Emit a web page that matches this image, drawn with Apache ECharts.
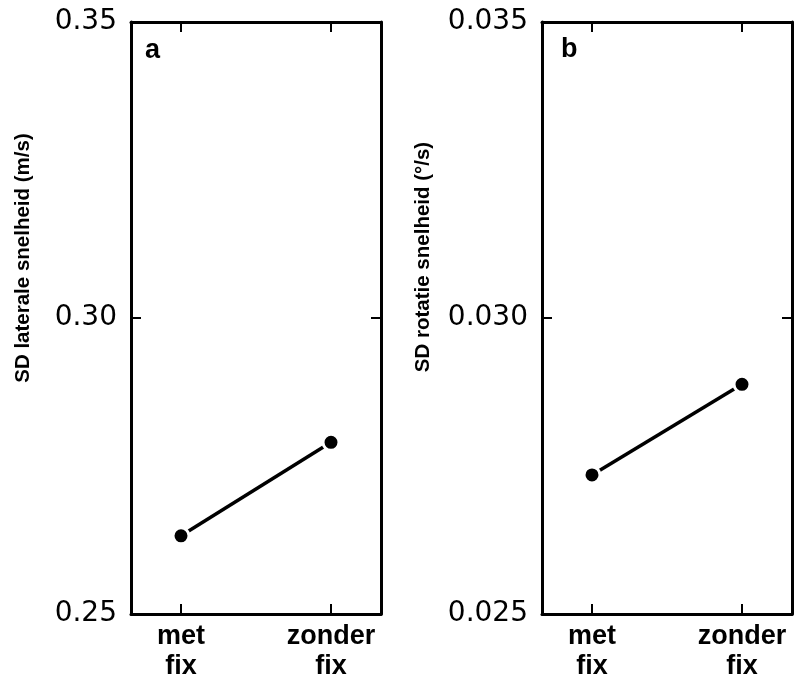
<!DOCTYPE html>
<html>
<head>
<meta charset="utf-8">
<script src="https://cdn.jsdelivr.net/npm/echarts@6/dist/echarts.min.js"></script>
<style>html,body{margin:0;padding:0;background:#fff}#c{width:797px;height:682px}</style>
</head>
<body>
<div id="c"></div>
<script>
const categories = ['met\nfix', 'zonder\nfix'];
const lateralValues = [0.2632, 0.2790];
const rotationValues = [0.02735, 0.02888];
const yTicksA = [0.25, 0.30, 0.35];
const yTicksB = [0.025, 0.030, 0.035];
const titleA = 'SD laterale snelheid (m/s)';
const titleB = 'SD rotatie snelheid (°/s)';
const panelLabels = ['a', 'b'];

const FONT = '"Liberation Sans", Arial, Helvetica, sans-serif';
const TICKFONT = '"DejaVu Sans", sans-serif';
const chart = echarts.init(document.getElementById('c'));

const grids = [
  {left: 131, top: 22, width: 250, height: 594},
  {left: 542, top: 22, width: 250, height: 594}
];
const catIdx = categories.map((_, i) => i);
const lineStyleAxis = {show: true, onZero: false, lineStyle: {color: '#000', width: 3}};

function xAxes(gi) {
  return [
    {
      type: 'value', gridIndex: gi, position: 'bottom', min: -1/3, max: 4/3,
      axisLine: lineStyleAxis, splitLine: {show: false},
      axisTick: {show: true, inside: true, length: 10, customValues: catIdx, lineStyle: {color: '#000', width: 2}},
      axisLabel: {show: true, customValues: catIdx, margin: 8, color: '#000', fontFamily: FONT,
        fontSize: 27, fontWeight: 'bold', lineHeight: 30,
        formatter: v => categories[Math.round(v)] || ''}
    },
    {
      type: 'value', gridIndex: gi, position: 'top', min: -1/3, max: 4/3,
      axisLine: lineStyleAxis, splitLine: {show: false},
      axisTick: {show: true, inside: true, length: 10, customValues: catIdx, lineStyle: {color: '#000', width: 2}},
      axisLabel: {show: false}
    }
  ];
}
function yAxes(gi, ticks, dec) {
  const iv = +(ticks[1] - ticks[0]).toFixed(6);
  return [
    {
      type: 'value', gridIndex: gi, position: 'left', min: ticks[0], max: ticks[ticks.length-1], interval: iv,
      axisLine: lineStyleAxis, splitLine: {show: false},
      axisTick: {show: true, inside: true, length: 10, lineStyle: {color: '#000', width: 2}},
      axisLabel: {show: true, margin: 14, color: '#000', fontFamily: TICKFONT, fontSize: 28,
        formatter: v => v.toFixed(dec)}
    },
    {
      type: 'value', gridIndex: gi, position: 'right', min: ticks[0], max: ticks[ticks.length-1], interval: iv,
      axisLine: lineStyleAxis, splitLine: {show: false},
      axisTick: {show: true, inside: true, length: 10, lineStyle: {color: '#000', width: 2}},
      axisLabel: {show: false}
    }
  ];
}

function series(xi, yi, vals) {
  return {
    type: 'line', xAxisIndex: xi, yAxisIndex: yi,
    data: vals.map((v, i) => [i, v]),
    symbol: 'circle', symbolSize: 16,
    itemStyle: {color: '#000', borderColor: '#fff', borderWidth: 3},
    lineStyle: {color: '#000', width: 3.5},
    animation: false
  };
}

function vtitle(x, y, text) {
  return {
    type: 'text', x: x, y: y, rotation: Math.PI / 2,
    style: {text: text, fill: '#000', fontFamily: FONT, fontSize: 20.5, fontWeight: 'bold',
      textAlign: 'center', textVerticalAlign: 'middle', align: 'center', verticalAlign: 'middle'}
  };
}
function plabel(x, y, text) {
  return {
    type: 'text', x: x, y: y,
    style: {text: text, fill: '#000', fontFamily: FONT, fontSize: 27, fontWeight: 'bold',
      textAlign: 'left', textVerticalAlign: 'bottom', align: 'left', verticalAlign: 'bottom'}
  };
}

chart.setOption({
  animation: false,
  backgroundColor: '#fff',
  grid: grids,
  xAxis: [...xAxes(0), ...xAxes(1)],
  yAxis: [...yAxes(0, yTicksA, 2), ...yAxes(1, yTicksB, 3)],
  series: [series(0, 0, lateralValues), series(2, 2, rotationValues)],
  graphic: [
    vtitle(23, 258, titleA),
    vtitle(423, 257, titleB),
    plabel(145, 64, panelLabels[0]),
    plabel(561, 63, panelLabels[1])
  ]
});
</script>
</body>
</html>
